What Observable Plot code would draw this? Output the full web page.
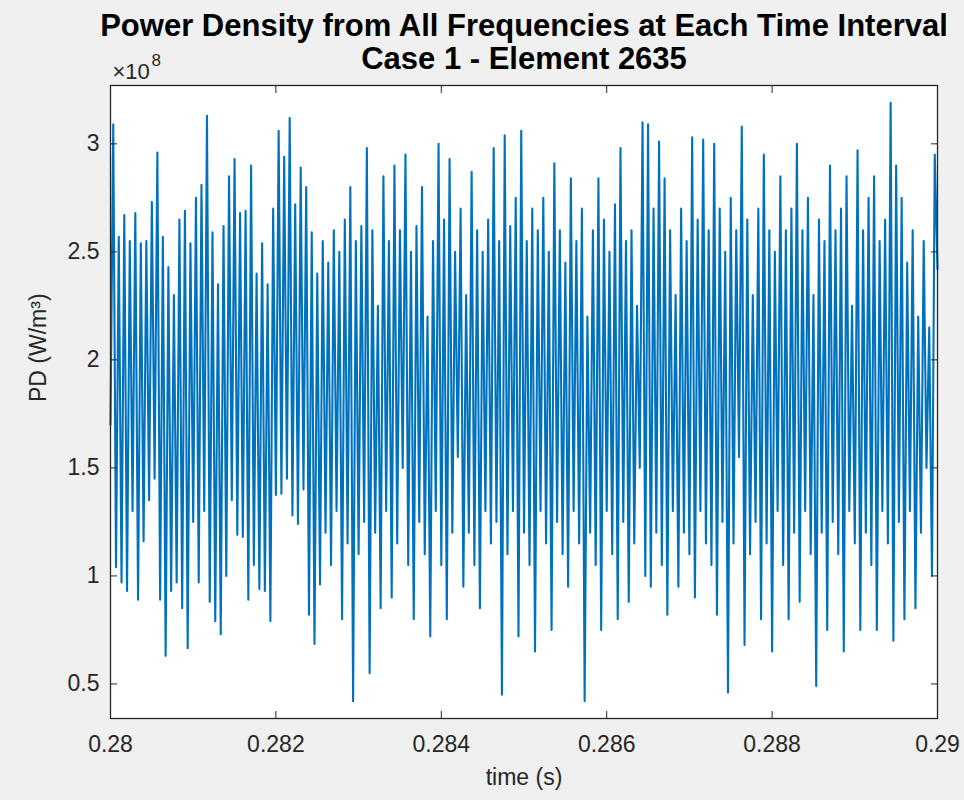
<!DOCTYPE html>
<html><head><meta charset="utf-8">
<script src="https://cdn.jsdelivr.net/npm/d3@7"></script>
<script src="https://cdn.jsdelivr.net/npm/@observablehq/plot@0.6"></script>
<style>html,body{margin:0;padding:0;background:#f0f0f0;}</style>
</head><body><div id="chart"></div>
<script>
// Values, in units of 1e8 W/m^3
const titleLine1 = "Power Density from All Frequencies at Each Time Interval";
const titleLine2 = "Case 1 - Element 2635";
const xLabel = "time (s)";
const yLabel = "PD (W/m\u00b3)";
const yExpBase = "\u00d710";
const yExpPower = "8";
const xTicks = [0.28, 0.282, 0.284, 0.286, 0.288, 0.29];
const yTicks = [0.5, 1, 1.5, 2, 2.5, 3];
const t0 = 0.28;       // first sample time (s)
const dt = 0.01 / 300; // sampling step (s)
// local maxima (odd samples)
const highs = [
3.09,2.57,2.67,2.55,2.68,2.54,2.55,2.73,2.96,2.57,
2.43,2.3,2.65,2.69,2.54,2.75,2.81,3.13,2.59,2.35,
2.62,2.85,2.93,2.68,2.69,2.9,2.4,2.54,2.35,2.7,
3.06,2.94,3.12,2.72,2.89,2.8,2.59,2.4,2.55,2.45,
2.6,2.5,2.65,2.8,2.55,2.62,2.98,2.6,2.25,2.85,
2.55,2.9,2.6,2.95,2.5,2.62,2.8,2.2,2.55,3.0,
2.65,2.93,2.5,2.7,2.3,2.87,2.6,2.5,2.65,2.98,
2.55,3.04,2.62,2.75,3.06,2.55,2.7,2.6,2.75,2.5,
2.91,2.6,2.45,2.84,2.55,2.7,2.2,2.6,2.84,2.65,
2.5,2.72,2.98,2.55,2.6,2.25,3.1,3.09,2.7,3.01,
2.84,2.6,2.3,2.7,2.55,3.03,2.65,3.02,2.6,3.0,
2.7,2.5,2.75,2.6,3.08,2.65,2.3,2.7,2.95,2.6,
2.5,2.85,2.6,2.7,3.0,2.6,2.75,2.3,2.65,2.55,
2.9,2.6,2.7,2.85,2.25,2.97,2.6,2.75,2.85,2.55,
2.65,3.19,2.9,2.75,2.45,2.6,2.2,2.55,2.15,2.95
];
// local minima (even samples)
const lows = [
1.7,1.04,0.97,0.93,1.3,0.89,1.16,1.35,1.45,0.89,
0.63,0.93,0.97,0.85,0.665,1.25,0.97,1.3,0.88,0.79,
0.73,1.0,1.35,1.19,1.18,0.89,1.05,0.94,0.93,0.79,
1.375,1.38,1.45,1.28,1.24,1.4,0.82,0.685,0.96,1.2,
1.05,1.3,0.8,1.15,0.42,1.1,1.25,0.55,1.2,0.85,
1.3,0.9,1.15,1.5,1.05,0.8,1.25,1.1,0.72,1.3,
1.05,0.8,1.2,1.55,0.95,1.2,1.05,0.85,1.3,1.15,
1.25,0.45,1.1,1.3,0.72,1.2,1.05,0.65,1.3,1.15,
0.75,1.25,1.1,0.95,1.3,1.15,0.42,1.2,1.05,0.75,
1.3,1.1,0.8,1.25,0.88,1.15,1.5,1.0,0.95,1.2,
1.05,0.82,1.3,0.95,1.2,1.1,0.9,1.3,1.15,1.05,
0.82,1.25,0.46,1.15,1.55,0.68,1.1,1.25,0.8,1.15,
0.65,1.3,1.05,0.8,1.2,0.88,1.3,1.1,0.49,1.2,
0.75,1.25,1.1,0.65,1.3,1.15,0.75,1.2,1.05,0.75,
1.3,1.15,0.7,1.25,0.8,1.3,0.85,1.2,1.5,1.0,
2.42
];

const rows = [];
for (let k = 0; k < lows.length + highs.length; k++) {
  const v = k % 2 === 0 ? lows[k / 2] : highs[(k - 1) / 2];
  rows.push({t: t0 + k * dt, pd: v});
}

const ink = "#262626";
const fmtX = d => String(+d.toFixed(3));
const fmtY = d => String(d);

const chart = Plot.plot({
  width: 964,
  height: 800,
  marginLeft: 110,
  marginRight: 27,
  marginTop: 85,
  marginBottom: 82,
  style: {background: "#f0f0f0", fontFamily: "'Liberation Sans', Arial, sans-serif", fontSize: "23px", color: ink},
  x: {domain: [0.28, 0.29]},
  y: {domain: [0.34, 3.27]},
  marks: [
    Plot.frame({fill: "white", stroke: "none"}),
    Plot.line(rows, {x: "t", y: "pd", stroke: "#0072BD", strokeWidth: 2.1}),
    Plot.axisX({ticks: xTicks, tickSize: -7, tickPadding: 24, tickFormat: fmtX, label: null, stroke: ink, fill: ink, fontSize: 23}),
    Plot.axisX({anchor: "top", ticks: xTicks, tickSize: -7, tickFormat: () => "", label: null, stroke: ink}),
    Plot.axisY({ticks: yTicks, tickSize: -7, tickPadding: 18, tickFormat: fmtY, label: null, stroke: ink, fill: ink, fontSize: 23}),
    Plot.axisY({anchor: "right", ticks: yTicks, tickSize: -7, tickFormat: () => "", label: null, stroke: ink}),
    Plot.frame({stroke: ink, strokeWidth: 1.3}),
    Plot.text([titleLine1], {text: d => d, frameAnchor: "top", dy: -72, fontSize: 31, fontWeight: "bold", fill: "#000"}),
    Plot.text([titleLine2], {text: d => d, frameAnchor: "top", dy: -39, fontSize: 31, fontWeight: "bold", fill: "#000"}),
    Plot.text([yExpBase], {text: d => d, frameAnchor: "top-left", textAnchor: "start", dy: -22, dx: 2, fontSize: 22, fill: ink}),
    Plot.text([yExpPower], {text: d => d, frameAnchor: "top-left", textAnchor: "start", dy: -32, dx: 41, fontSize: 17, fill: ink}),
    Plot.text([xLabel], {text: d => d, frameAnchor: "bottom", dy: 66, fontSize: 23, fill: ink}),
    Plot.text([yLabel], {text: d => d, frameAnchor: "left", dx: -72, rotate: -90, fontSize: 23, fill: ink})
  ]
});
document.getElementById("chart").appendChild(chart);
</script></body></html>
